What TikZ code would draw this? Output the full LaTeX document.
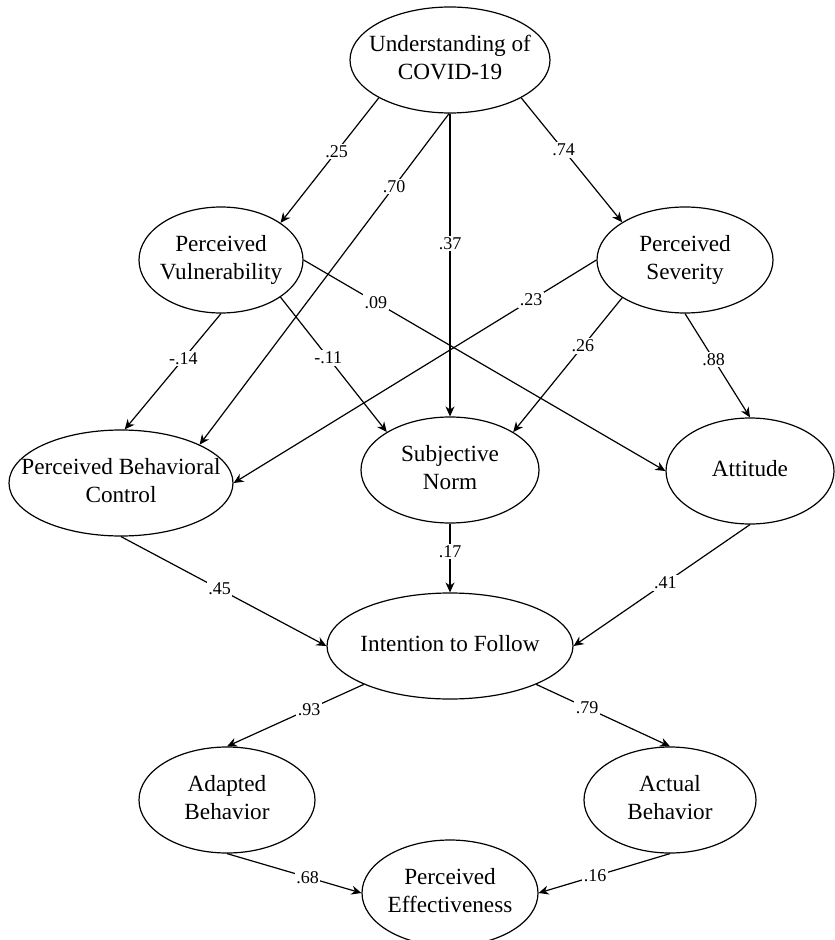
\documentclass[tikz,border=0pt]{standalone}
\usepackage{fontspec}
\setmainfont{Liberation Serif}
\usetikzlibrary{arrows.meta,shapes.geometric,positioning}

\newcommand{\ltxt}[1]{\makebox[0pt]{\begin{tabular}{@{}c@{}}#1\end{tabular}}}

\begin{document}
\begin{tikzpicture}[
        x=0.5pt, y=-0.5pt,
        latsty/.style={
            draw, ellipse, line width=0.6pt,
            fill=white, inner sep=0pt,
            minimum height=53pt,
            font=\fontsize{11.6}{14}\selectfont,
        },
        arrowsty/.style={-{Stealth[length=5pt,width=4.5pt]}, line width=0.6pt},
        msgsty/.style={fill=white, inner sep=0.8pt, font=\fontsize{9}{10}\selectfont},
    ]

    \useasboundingbox (0,0) rectangle (834,940);

    \node[latsty, minimum width=100pt] at (450,60) (und) {\ltxt{Understanding of\\COVID-19}};

    \node[latsty, minimum width=82pt] at (221,260) (vul) {\ltxt{Perceived\\Vulnerability}};
    \node[latsty, minimum width=88pt] at (685,260) (sev) {\ltxt{Perceived\\Severity}};

    \node[latsty, minimum width=112pt] at (121,483) (pbc) {\ltxt{Perceived Behavioral\\Control}};
    \node[latsty, minimum width=89pt] at (450,470) (sn) {\ltxt{Subjective\\Norm}};
    \node[latsty, minimum width=84pt] at (750,471) (att) {\ltxt{Attitude}};

    \node[latsty, minimum width=123pt] at (450,646) (itf) {\ltxt{Intention to Follow}};

    \node[latsty, minimum width=88pt] at (227,800) (adb) {\ltxt{Adapted\\Behavior}};
    \node[latsty, minimum width=86pt] at (670,800) (acb) {\ltxt{Actual\\Behavior}};
    \node[latsty, minimum width=88pt] at (450,893) (pef) {\ltxt{Perceived\\Effectiveness}};

    \draw[arrowsty] (und.208) -- node[msgsty,pos=0.43] {.25} (vul.32);
    \draw[arrowsty] (und.269) -- node[msgsty,pos=0.22] {.70} (pbc.26);
    \draw[arrowsty] (und.south) -- node[msgsty,pos=0.43] {.37} (sn.north);
    \draw[arrowsty] (und.332) -- node[msgsty,pos=0.42] {.74} (sev.149);

    \draw[arrowsty] (vul.south) -- node[msgsty,pos=0.39] {-.14} (pbc.86);
    \draw[arrowsty] (vul.328) -- node[msgsty,pos=0.45] {-.11} (sn.149);
    \draw[arrowsty] (vul.east) -- node[msgsty,pos=0.2] {.09} (att.west);

    \draw[arrowsty] (sev.west) -- node[msgsty,pos=0.18] {.23} (pbc.east);
    \draw[arrowsty] (sev.211) -- node[msgsty,pos=0.36] {.26} (sn.31);
    \draw[arrowsty] (sev.south) -- node[msgsty,pos=0.44] {.88} (att.north);

    \draw[arrowsty] (pbc.south) -- node[msgsty,pos=0.48] {.45} (itf.west);
    \draw[arrowsty] (sn.south) -- node[msgsty,pos=0.41] {.17} (itf.north);
    \draw[arrowsty] (att.south) -- node[msgsty,pos=0.48] {.41} (itf.east);

    \draw[arrowsty] (itf.204) -- node[msgsty,pos=0.4] {.93} (adb.north);
    \draw[arrowsty] (itf.336) -- node[msgsty,pos=0.38] {.79} (acb.north);

    \draw[arrowsty] (adb.south) -- node[msgsty,pos=0.6] {.68} (pef.west);
    \draw[arrowsty] (acb.south) -- node[msgsty,pos=0.57] {.16} (pef.east);

\end{tikzpicture}
\end{document}
